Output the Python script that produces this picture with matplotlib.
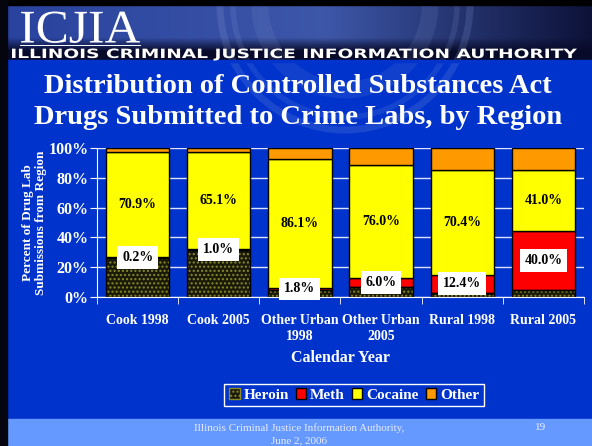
import matplotlib
matplotlib.use("Agg")
import matplotlib.pyplot as plt
from matplotlib.patches import Rectangle, Patch, Circle, PathPatch
from matplotlib.textpath import TextPath
from matplotlib.font_manager import FontProperties
from matplotlib.transforms import Affine2D
import numpy as np

# данные (проценты, сумма ~100 по каждому столбцу)
categories = ["Cook 1998", "Cook 2005", "Other Urban\n1998", "Other Urban\n2005",
              "Rural 1998", "Rural 2005"]
heroin  = [26.5, 31.5, 4.5, 6.7, 2.7, 4.5]
meth    = [0.2, 1.0, 1.8, 6.0, 12.4, 40.0]
cocaine = [70.9, 65.1, 86.1, 76.0, 70.4, 41.0]
other   = [2.4, 2.4, 7.6, 11.3, 14.5, 14.5]
meth_lbl = ["0.2%", "1.0%", "1.8%", "6.0%", "12.4%", "40.0%"]
coc_lbl  = ["70.9%", "65.1%", "86.1%", "76.0%", "70.4%", "41.0%"]

BLUE = "#0033CC"
SERIF = ["Liberation Serif", "DejaVu Serif"]
W, H = 592, 446

fig = plt.figure(figsize=(W/100, H/100), dpi=100, facecolor=BLUE)

# ---- фон слайда (в пикселях) ----
bg = fig.add_axes([0, 0, 1, 1]); bg.set_xlim(0, W); bg.set_ylim(H, 0); bg.axis("off")
bg.add_patch(Rectangle((0, 0), W, H, color=BLUE, zorder=0))

def stretched(s, x0, x1, base, cap, prop):
    # текст, растянутый в прямоугольник (x0..x1, высота заглавных cap, базовая линия base)
    tp = TextPath((0, 0), s, size=1, prop=prop)
    e = tp.get_extents()
    tr = Affine2D().translate(-e.x0, 0).scale((x1 - x0) / e.width, -cap / e.y1).translate(x0, base)
    bg.add_patch(PathPatch(tp, transform=tr + bg.transData, fc="white", ec="none", zorder=4))

# шапка: градиент
xs = np.linspace(0, 1, 300)[None, :]
ys = np.linspace(0, 1, 60)[:, None]
c_left = np.array([0.16, 0.26, 0.62]); c_mid = np.array([0.24, 0.34, 0.66]); c_right = np.array([0.05, 0.07, 0.22])
top = np.where(xs[..., None] < 0.55,
               c_left + (c_mid - c_left) * (xs[..., None] / 0.55),
               c_mid + (c_right - c_mid) * ((xs[..., None] - 0.55) / 0.45))
dark = np.array([0.03, 0.04, 0.16])
k = np.clip((ys - 0.6) / 0.25, 0, 1)[..., None]
img = top * (1 - k) + dark * k
bg.imshow(img, extent=(0, W, 60, 4), aspect="auto", zorder=1)
for r, a, lw in [(125, 0.18, 5), (112, 0.14, 4), (85, 0.12, 12)]:
    bg.add_patch(Circle((345, 5), r, fill=False, ec="#8fa6dc", lw=lw, alpha=a, zorder=2))
bg.add_patch(Rectangle((0, 60), W, 2, color=BLUE, zorder=2))
bg.add_patch(Rectangle((0, 0), W, 5, color="black", zorder=3))
bg.add_patch(Rectangle((0, 0), 7, H, color="#050510", zorder=3))
bg.add_patch(Rectangle((7, 419), W, H - 419, color="#6699FF", zorder=2))
bg.plot([20, 140], [45, 45], color="white", lw=0.7, zorder=4)
stretched("ICJIA", 21, 140, 42.5, 31, FontProperties(family=SERIF))
stretched("ILLINOIS CRIMINAL JUSTICE INFORMATION AUTHORITY", 12, 577, 58, 9.5,
          FontProperties(family="DejaVu Sans", weight="bold"))
bg.text(298, 102, "Distribution of Controlled Substances Act\nDrugs Submitted to Crime Labs, by Region",
        fontsize=20.5, family=SERIF, weight="bold", color="white", ha="center", va="center",
        linespacing=1.35, zorder=4)
bg.text(299, 428, "Illinois Criminal Justice Information Authority,", fontsize=8, family=SERIF,
        color="#e6ecff", ha="center", va="center", zorder=4)
bg.text(299, 441, "June 2, 2006", fontsize=8, family=SERIF, color="#e6ecff", ha="center", va="center", zorder=4)
bg.text(541, 428, "19", fontsize=8, family=SERIF, color="#e6ecff", ha="center", va="center", zorder=4)

# ---- график ----
ax = fig.add_axes([97/W, 1 - 297/H, 487/W, 149/H])
ax.set_facecolor(BLUE)
x = np.arange(len(categories))
wd = 0.78
h = np.array(heroin); m = np.array(meth); c = np.array(cocaine); o = np.array(other)
ax.bar(x, h, wd, color="#1a1a08", edgecolor="#8a8a2a", hatch="....", lw=0, zorder=3)
ax.bar(x, h, wd, color="none", edgecolor="black", lw=1, zorder=4)
ax.bar(x, m, wd, bottom=h, color="#FF0000", edgecolor="black", lw=1, zorder=3)
ax.bar(x, c, wd, bottom=h + m, color="#FFFF00", edgecolor="black", lw=1, zorder=3)
ax.bar(x, o, wd, bottom=h + m + c, color="#FF9900", edgecolor="black", lw=1, zorder=3)

for i in x:
    ax.text(i, h[i] + m[i] / 2, meth_lbl[i], ha="center", va="center", fontsize=10,
            family=SERIF, weight="bold", color="black", zorder=6,
            bbox=dict(boxstyle="square,pad=0.35", fc="white", ec="none"))
    ax.text(i, h[i] + m[i] + c[i] / 2, coc_lbl[i], ha="center", va="center", fontsize=10,
            family=SERIF, weight="bold", color="black", zorder=6)

ax.set_xlim(-0.5, len(categories) - 0.5); ax.set_ylim(0, 100)
ax.set_yticks(range(0, 101, 20))
ax.set_yticklabels([f"{v}%" for v in range(0, 101, 20)], family=SERIF, weight="bold",
                   fontsize=11.5, color="white")
ax.set_xticks(x)
ax.set_xticklabels(categories, family=SERIF, weight="bold", fontsize=10, color="white", linespacing=1.3)
ax.set_xticks(np.arange(-0.5, len(categories)), minor=True)
ax.tick_params(axis="x", which="major", length=0, pad=12)
ax.tick_params(axis="x", which="minor", length=5, color="white", direction="out")
ax.tick_params(axis="y", length=5, color="white", direction="out", pad=1)
ax.grid(axis="y", color="#dde4ff", lw=1, zorder=1)
for s in ["top", "right"]:
    ax.spines[s].set_visible(False)
for s in ["left", "bottom"]:
    ax.spines[s].set_color("white"); ax.spines[s].set_zorder(5)
ax.set_ylabel("Percent of Drug Lab\nSubmissions from Region", family=SERIF, weight="bold",
              fontsize=9.5, color="white", labelpad=1, linespacing=1.15)
ax.set_xlabel("Calendar Year", family=SERIF, weight="bold", fontsize=11.5, color="white", labelpad=5)

handles = [Patch(fc="#1a1a08", ec="#8a8a2a", hatch="...."), Patch(fc="#FF0000", ec="black"),
           Patch(fc="#FFFF00", ec="black"), Patch(fc="#FF9900", ec="black")]
leg = fig.legend(handles, ["Heroin", "Meth", "Cocaine", "Other"], ncol=4,
                 loc="center", bbox_to_anchor=(354/W, 1 - 395/H),
                 prop=dict(family=SERIF, weight="bold", size=11), labelcolor="white",
                 facecolor=BLUE, edgecolor="white", framealpha=1, fancybox=False,
                 handlelength=0.7, handleheight=0.7, handletextpad=0.25, columnspacing=0.45,
                 borderpad=0.3, borderaxespad=0)
leg.get_frame().set_linewidth(1)

fig.savefig("out.png", dpi=100, facecolor=fig.get_facecolor())
